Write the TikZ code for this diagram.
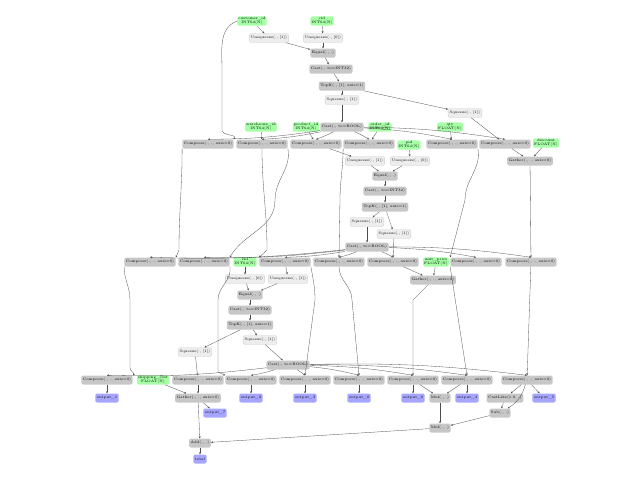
\documentclass[tikz,border=0pt]{standalone}
\usetikzlibrary{arrows.meta}
\begin{document}
\begin{tikzpicture}[x=1pt,y=-1pt,
 every node/.style={font=\fontsize{3.6}{4}\selectfont,rounded corners=2pt,inner sep=1.5pt,minimum height=9pt},
 g/.style={fill=green!35,align=center,inner sep=1pt},
 d/.style={fill=black!22},
 l/.style={fill=black!7,draw=black!18},
 o/.style={fill=blue!35},
 e/.style={-{Stealth[length=2pt,width=2pt]},draw=black!70,line width=0.3pt}]
\useasboundingbox (0,0) rectangle (640,480);
% block 1
\node[g] (cust) at (252,21) {customer\_id\\INT64(N)};
\node[g] (cid) at (322,21) {cid\\INT64(N)};
\node[l] (u11) at (269,38) {Unsqueeze(., [1])};
\node[l] (u10) at (323,38) {Unsqueeze(., [0])};
\node[d] (eq1) at (323,53) {Equal(., .)};
\node[d] (ca1) at (331,69) {Cast(., to=INT32)};
\node[d] (tk1) at (342,86) {TopK(., [1], axis=1)};
\node[l] (sa1) at (342,100) {Squeeze(., [1])};
\node[l] (sb1) at (465,113) {Squeeze(., [1])};
\node[d] (cb1) at (342,127) {Cast(., to=BOOL)};
\node[g] (wh) at (261,127) {warehouse\_id\\INT64(N)};
\node[g] (prod) at (306,127) {product\_id\\INT64(N)};
\node[g] (ord) at (380,127) {order\_id\\INT64(N)};
\node[g] (qty) at (450,127) {qty\\FLOAT(N)};
\node[d] (r1a) at (208,144) {Compress(., ., axis=0)};
\node[d] (r1b) at (262,144) {Compress(., ., axis=0)};
\node[d] (r1c) at (316,144) {Compress(., ., axis=0)};
\node[d] (r1d) at (369,144) {Compress(., ., axis=0)};
\node[g] (pid) at (409,145) {pid\\INT64(N)};
\node[d] (r1e) at (452,144) {Compress(., ., axis=0)};
\node[d] (r1f) at (505,144) {Compress(., ., axis=0)};
\node[g] (disc) at (546,143) {discount\\FLOAT(N)};
\node[l] (u21) at (365,161) {Unsqueeze(., [1])};
\node[l] (u20) at (410,161) {Unsqueeze(., [0])};
\node[d] (ga1) at (530,161) {Gather(., ., axis=0)};
% block 2
\node[d] (eq2) at (385,176) {Equal(., .)};
\node[d] (ca2) at (385,191) {Cast(., to=INT32)};
\node[d] (tk2) at (385,207) {TopK(., [1], axis=1)};
\node[l] (sa2) at (367,222) {Squeeze(., [1])};
\node[l] (sb2) at (394,234) {Squeeze(., [1])};
\node[d] (cb2) at (367,247) {Cast(., to=BOOL)};
\node[d] (r2a) at (150,262) {Compress(., ., axis=0)};
\node[d] (r2b) at (204,262) {Compress(., ., axis=0)};
\node[g] (sid) at (245,262) {sid\\INT64(N)};
\node[d] (r2c) at (285,262) {Compress(., ., axis=0)};
\node[d] (r2d) at (339,262) {Compress(., ., axis=0)};
\node[d] (r2e) at (393,262) {Compress(., ., axis=0)};
\node[g] (up) at (436,262) {unit\_price\\FLOAT(N)};
\node[d] (r2f) at (476,262) {Compress(., ., axis=0)};
\node[d] (r2g) at (531,262) {Compress(., ., axis=0)};
\node[l] (u30) at (245,279) {Unsqueeze(., [0])};
\node[l] (u31) at (288,279) {Unsqueeze(., [1])};
\node[d] (ga2) at (433,280) {Gather(., ., axis=0)};
% block 3
\node[d] (eq3) at (250,295) {Equal(., .)};
\node[d] (ca3) at (250,310) {Cast(., to=INT32)};
\node[d] (tk3) at (250,325) {TopK(., [1], axis=1)};
\node[l] (sb3) at (260,340) {Squeeze(., [1])};
\node[l] (sa3) at (195,352) {Squeeze(., [1])};
\node[d] (cb3) at (288,365) {Cast(., to=BOOL)};
\node[d] (r3a) at (107,380) {Compress(., ., axis=0)};
\node[g] (ship) at (153,380) {shipping\_cost\\FLOAT(N)};
\node[d] (r3b) at (198,380) {Compress(., ., axis=0)};
\node[d] (r3c) at (251,380) {Compress(., ., axis=0)};
\node[d] (r3d) at (305,380) {Compress(., ., axis=0)};
\node[d] (r3e) at (359,380) {Compress(., ., axis=0)};
\node[d] (r3f) at (413,380) {Compress(., ., axis=0)};
\node[d] (r3g) at (467,380) {Compress(., ., axis=0)};
\node[d] (r3h) at (527,380) {Compress(., ., axis=0)};
\node[o] (o1) at (107,398) {output\_1};
\node[d] (ga3) at (198,398) {Gather(., ., axis=0)};
\node[o] (o2) at (251,398) {output\_2};
\node[o] (o3) at (305,398) {output\_3};
\node[o] (o0) at (359,398) {output\_0};
\node[o] (o6) at (413,398) {output\_6};
\node[d] (mu1) at (440,398) {Mul(., .)};
\node[o] (o4) at (467,398) {output\_4};
\node[d] (cl) at (505,398) {CastLike(1.0, .)};
\node[o] (o5) at (544,398) {output\_5};
\node[o] (o7) at (215,413) {output\_7};
\node[d] (sub) at (500,413) {Sub(., .)};
\node[d] (mu2) at (440,428) {Mul(., .)};
\node[d] (add) at (200,443) {Add(., .)};
\node[o] (tot) at (200,459) {total};
% edges block 1
\draw[e] (cust) -- (u11); \draw[e] (cid) -- (u10);
\draw[e] (u11) -- (eq1); \draw[e] (u10) -- (eq1);
\draw[e] (eq1) -- (ca1); \draw[e] (ca1) -- (tk1);
\draw[e] (tk1) -- (sa1); \draw[e] (tk1) -- (sb1);
\draw[e] (sa1) -- (cb1);
\draw[e] (cust.west) to[out=200,in=90] (222,70) -- (222,130) to[out=-90,in=60] (r1a.north east);
\draw[e] (wh) -- (r1b); \draw[e] (prod) -- (r1c); \draw[e] (ord) -- (r1d); \draw[e] (qty) -- (r1e);
\draw[e] (sb1) -- (r1f);
\foreach \t in {r1a,r1b,r1c,r1d,r1e,r1f} \draw[e] (cb1) to[bend left=4] (\t.north);
\draw[e] (r1c) -- (u21); \draw[e] (pid) -- (u20);
\draw[e] (r1f) -- (ga1); \draw[e] (disc) -- (ga1);
% block 2
\draw[e] (u21) -- (eq2); \draw[e] (u20) -- (eq2);
\draw[e] (eq2) -- (ca2); \draw[e] (ca2) -- (tk2);
\draw[e] (tk2) -- (sa2); \draw[e] (tk2) -- (sb2);
\draw[e] (sa2) -- (cb2);
\draw[e] (r1a.south west) to[out=-90,in=90] (179,250) -- (r2a.north east);
\draw[e] (r1b.south east) to[out=-80,in=90] (275,200) to[out=-90,in=60] (r2b.north east);
\draw[e] (r1b.south) to[out=-90,in=90] (267,250) -- (r2c.north west);
\draw[e] (r1d.south west) to[out=-90,in=90] (340,200) -- (r2d.north);
\draw[e] (sb2) -- (r2e);
\draw[e] (r1e.south east) to[out=-80,in=90] (465,200) -- (r2f.north west);
\draw[e] (ga1) -- (r2g);
\foreach \t in {r2a,r2b,r2c,r2d,r2e,r2f,r2g} \draw[e] (cb2) to[bend left=4] (\t.north);
\draw[e] (sid) -- (u30); \draw[e] (r2c) -- (u31);
\draw[e] (r2e) -- (ga2); \draw[e] (up) -- (ga2);
% block 3
\draw[e] (u30) -- (eq3); \draw[e] (u31) -- (eq3);
\draw[e] (eq3) -- (ca3); \draw[e] (ca3) -- (tk3);
\draw[e] (tk3) -- (sb3); \draw[e] (tk3) -- (sa3);
\draw[e] (sb3) -- (cb3); \draw[e] (sa3) -- (r3b);
\draw[e] (r2a.south west) to[out=-90,in=90] (130,300) -- (130,368) to[out=-90,in=40] (r3a.north east);
\draw[e] (r2b.south east) to[out=-80,in=90] (218,300) -- (218,372) -- (r3c.north west);
\draw[e] (r2c.south east) to[out=-80,in=90] (315,300) -- (r3d.north);
\draw[e] (r2d.south) to[out=-90,in=90] (352,300) -- (r3e.north);
\draw[e] (ga2) -- (413,300) -- (r3f.north);
\draw[e] (r2f.south west) -- (r3g.north);
\draw[e] (r2g) -- (r3h);
\foreach \t in {r3a,r3c,r3d,r3e,r3f,r3g,r3h} \draw[e] (cb3) to[bend left=4] (\t.north);
% outputs
\draw[e] (r3a) -- (o1);
\draw[e] (ship) -- (ga3); \draw[e] (r3b) -- (ga3);
\draw[e] (ga3) -- (o7); \draw[e] (ga3) -- (add);
\draw[e] (r3c) -- (o2); \draw[e] (r3d) -- (o3); \draw[e] (r3e) -- (o0);
\draw[e] (r3f) -- (o6); \draw[e] (r3f) -- (mu1);
\draw[e] (r3g) -- (mu1); \draw[e] (r3g) -- (o4);
\draw[e] (r3h) -- (cl); \draw[e] (r3h) to[bend left=20] (sub); \draw[e] (r3h) -- (o5);
\draw[e] (cl) -- (sub);
\draw[e] (mu1) -- (mu2); \draw[e] (sub) -- (mu2);
\draw[e] (mu2) -- (add); \draw[e] (add) -- (tot);
\end{tikzpicture}
\end{document}
